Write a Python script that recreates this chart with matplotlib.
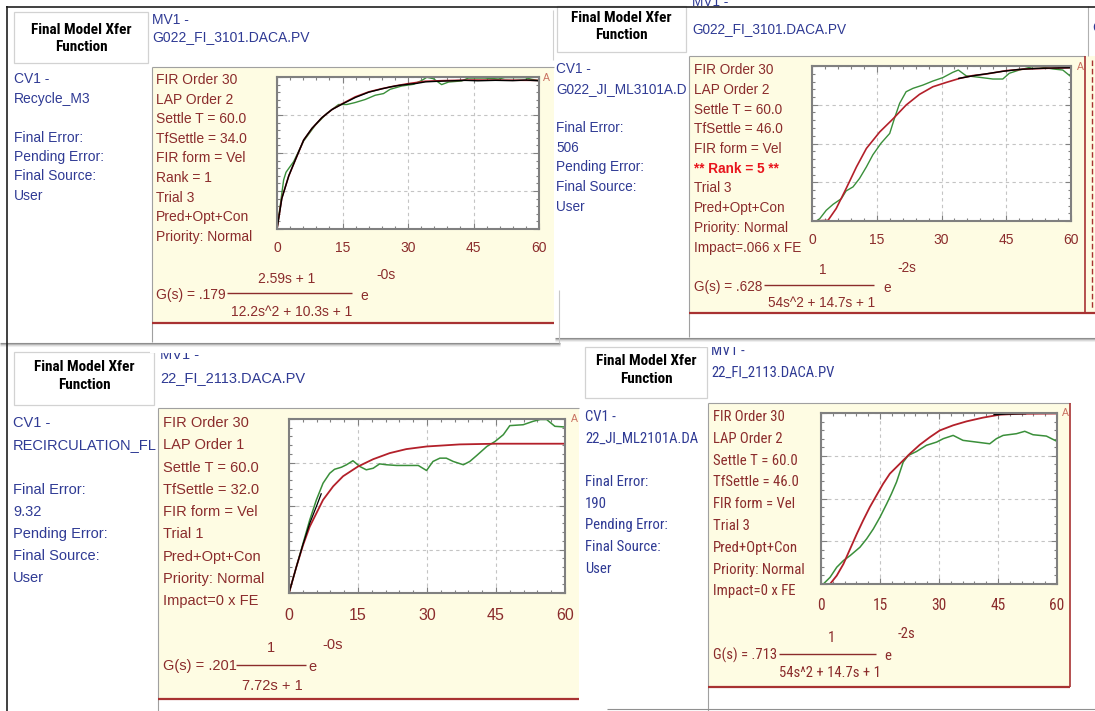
import numpy as np
import matplotlib.pyplot as plt
from matplotlib import font_manager
from matplotlib.font_manager import FontProperties
from matplotlib.patches import Rectangle

W, H = 1095, 711
nan = float('nan')

# ---- step responses (time, fraction of plot height)
t1_red = [0, 1.1, 2.7, 4.2, 6.1, 8, 10.3, 12.6, 15, 17.9, 21, 24, 27, 30, 34, 38, 45, 52, 60]
y1_red = [0, .203, .35, .454, .585, .661, .733, .786, .825, .869, .902, .923, .941, .956, .972, .976, .98, .979, .978]
t1_grn = [0, .76, 1.52, 2.06, 2.82, 3.81, 6.1, 8.77, 11.4, 14.1, 16, 17.9, 20.2, 22.5, 24.4, 25.9, 28.6, 31.3,
          33.2, 34.3, 35.8, 37.7, 39.3, 42.3, 43.8, 47.6, 50.7, 52.2, 56.8, 58.3, 60]
y1_grn = [0, .159, .323, .373, .404, .443, .579, .683, .76, .819, .819, .832, .852, .88, .891, .919, .941, .952,
          .978, .998, .989, .95, .967, .974, .993, .993, .987, .996, .996, .985, .976]
t1_blk = [0, 1.1, 2.7, 4.2, 6.1, 8, 10.3, 12.6, 15, 18, 21, 24, 26, 28, 30, 32, 34, 37, 40, 43, 46, 50, 54, 57, 60]
y1_blk = [0, .2, .35, .455, .585, .662, .733, .786, .823, .866, .9, .922, .935, .945, .952, .958, .968, .972,
          .975, .978, .975, .978, .976, .98, .975]

t2_red = [0, 3.7, 5.6, 7.9, 10.3, 12.6, 15.7, 18.7, 21.8, 24.9, 28, 31.1, 34.2, 37.2, 40.3, 45, 49.6, 54.2, 60]
y2_red = [0, .004, .08, .209, .349, .468, .575, .657, .748, .817, .866, .894, .92, .938, .948, .97, .981, .985, .989]
t2_grn = [0, 1, 1.8, 3.3, 4.9, 6.8, 7.9, 9.5, 11, 12.6, 14.1, 16, 18, 19.1, 20.3, 21.8, 23.4, 25.7, 28, 30.3,
          32.6, 33.9, 35.7, 38.8, 41.9, 44.2, 45.7, 48, 51.1, 52.7, 55.8, 58.1, 60]
y2_grn = [0, 0, .015, .069, .108, .144, .194, .22, .274, .349, .427, .502, .565, .662, .759, .834, .856, .877,
          .903, .925, .959, .974, .937, .927, .916, .916, .953, .974, .996, .996, .981, .974, .931]
t2_blk = [0, 3, nan, 34, 36, 38, 40, 44, 48, 52, 56, 60]
y2_blk = [0, 0, nan, .92, .93, .94, .948, .965, .978, .984, .987, .989]

t3_red = [0, 1.6, 3.05, 4.5, 5.95, 7.4, 9.6, 11.75, 15, 18.3, 21.9, 25.5, 29.9, 37.1, 45.1, 60]
y3_red = [0, .15, .275, .381, .458, .535, .613, .671, .727, .769, .804, .827, .842, .854, .858, .858]
t3_grn = [0, 1.6, 3.05, 4.5, 5.95, 7.4, 8.85, 9.9, 11.4, 12.5, 13.9, 15.4, 16.8, 18.3, 19.7, 21.2, 23.4, 25.5,
          28.1, 29.9, 31.3, 32.8, 34.2, 35.7, 37.9, 39.3, 40.8, 43, 44.8, 46.6, 48, 50.9, 53.1, 54.6, 56, 57.8, 60]
y3_grn = [0, .15, .285, .419, .535, .631, .688, .711, .723, .737, .76, .727, .708, .717, .742, .737, .733, .733,
          .733, .704, .756, .775, .775, .756, .737, .756, .79, .842, .871, .91, .962, .967, .987, .997, .997, .958, .954]
t3_blk = [0, 1.6, 3.05, 4.5, 5.95, 7]
y3_blk = [0, .15, .28, .40, .497, .57]

t4_red = [0, 2.3, 4, 5.7, 7.4, 9.1, 10.7, 12.4, 14.1, 15.8, 17.5, 19.2, 20.9, 22.6, 25.1, 27.7, 30.2, 33.6, 37,
          41.2, 45.4, 49.7, 60]
y4_red = [0, 0, .049, .117, .205, .293, .371, .449, .518, .586, .645, .684, .723, .762, .814, .859, .898, .928,
          .951, .973, .99, .995, .997]
t4_grn = [0, .6, 2.3, 4, 5.7, 7.4, 9.9, 11.6, 13.3, 15, 16.7, 17.9, 19.2, 20.9, 22.2, 24.3, 26.8, 29.4, 31.1,
          33.6, 36.1, 39.5, 42.9, 44.6, 46.3, 49.7, 51.8, 53.9, 57.3, 60]
y4_grn = [0, 0, .039, .098, .137, .166, .215, .264, .322, .391, .469, .527, .596, .713, .752, .775, .811, .83,
          .85, .869, .84, .83, .82, .85, .869, .879, .893, .873, .865, .834]
t4_blk = [0, 3, nan, 44, 47, 52]
y4_blk = [0, 0, nan, .99, .994, .996]

x_ticks = [0, 15, 30, 45, 60]
hdr_lines = ["Final Model Xfer", "Function"]

p1_mv = ["MV1 -", "G022_FI_3101.DACA.PV"]
p1_cv = ["CV1 -", "Recycle_M3", "", "Final Error:", "Pending Error:", "Final Source:", "User"]
p1_info = ["FIR Order 30", "LAP Order 2", "Settle T = 60.0", "TfSettle = 34.0", "FIR form = Vel", "Rank = 1",
           "Trial 3", "Pred+Opt+Con", "Priority: Normal"]
p1_tf = ["G(s) = .179", "2.59s + 1", "12.2s^2 + 10.3s + 1", "-0s"]

p2_mv = ["MV1 -", "G022_FI_3101.DACA.PV"]
p2_cv = ["CV1 -", "G022_JI_ML3101A.D", "", "Final Error:", "506", "Pending Error:", "Final Source:", "User"]
p2_info = ["FIR Order 30", "LAP Order 2", "Settle T = 60.0", "TfSettle = 46.0", "FIR form = Vel",
           "** Rank = 5 **", "Trial 3", "Pred+Opt+Con", "Priority: Normal", "Impact=.066 x FE"]
p2_tf = ["G(s) = .628", "1", "54s^2 + 14.7s + 1", "-2s"]

p3_mv = ["MV1 -", "22_FI_2113.DACA.PV"]
p3_cv = ["CV1 -", "RECIRCULATION_FL", "", "Final Error:", "9.32", "Pending Error:", "Final Source:", "User"]
p3_info = ["FIR Order 30", "LAP Order 1", "Settle T = 60.0", "TfSettle = 32.0", "FIR form = Vel", "Trial 1",
           "Pred+Opt+Con", "Priority: Normal", "Impact=0 x FE"]
p3_tf = ["G(s) = .201", "1", "7.72s + 1", "-0s"]

p4_mv = ["MV1 -", "22_FI_2113.DACA.PV"]
p4_cv = ["CV1 -", "22_JI_ML2101A.DA", "", "Final Error:", "190", "Pending Error:", "Final Source:", "User"]
p4_info = ["FIR Order 30", "LAP Order 2", "Settle T = 60.0", "TfSettle = 46.0", "FIR form = Vel", "Trial 3",
           "Pred+Opt+Con", "Priority: Normal", "Impact=0 x FE"]
p4_tf = ["G(s) = .713", "1", "54s^2 + 14.7s + 1", "-2s"]

BLUE = '#2f3a94'
BROWN = '#8b2c2c'
RANK_RED = '#e8141c'
YELLOW = '#fefce3'
RED_LINE = '#a83232'
GRID = '#c4c4c4'
FRAME = '#808080'
C_RED = '#b3202a'
C_GRN = '#3a8f3a'

SANS = ['Liberation Sans', 'DejaVu Sans']
plt.rcParams['font.family'] = SANS


def _wt(f):
    w = f.weight
    if isinstance(w, str):
        return 700 if 'bold' in w else 400
    return int(w)


def condensed_font(bold):
    # look for a narrow / condensed face among the installed fonts
    prefs = ['Liberation Sans Narrow', 'Roboto Condensed', 'Open Sans Condensed', 'Noto Sans',
             'DejaVu Sans', 'Open Sans', 'Roboto']
    found = []
    for f in font_manager.fontManager.ttflist:
        narrow = ('Narrow' in f.name or 'Condensed' in f.name or 'Narrow' in f.fname
                  or 'Condensed' in f.fname or str(f.stretch) in ('condensed', 'semi-condensed'))
        if not narrow or 'Extra' in f.fname or 'Oblique' in f.fname or 'Italic' in f.fname:
            continue
        if (_wt(f) >= 600) != bold:
            continue
        rank = next((i for i, p in enumerate(prefs) if f.name.startswith(p)), len(prefs))
        found.append((rank, f.fname))
    if not found:
        return None
    return sorted(found)[0][1]


HDR_FILE = condensed_font(True)
NAR_FILE = condensed_font(False)

fig = plt.figure(figsize=(W / 100, H / 100), dpi=100)
bg = fig.add_axes([0, 0, 1, 1])
bg.set_xlim(0, W)
bg.set_ylim(H, 0)
bg.axis('off')


def fprops(fam, fs, weight='normal'):
    if isinstance(fam, str) and fam.endswith(('.ttf', '.otf', '.TTF', '.OTF')):
        return FontProperties(fname=fam, size=fs)
    return FontProperties(family=fam, size=fs, weight=weight)


def hline(x0, x1, y, c, lw=1.0, z=5, **kw):
    bg.plot([x0, x1], [y, y], color=c, lw=lw, zorder=z, solid_capstyle='butt', **kw)


def vline(x, y0, y1, c, lw=1.0, z=5, **kw):
    bg.plot([x, x], [y0, y1], color=c, lw=lw, zorder=z, solid_capstyle='butt', **kw)


def rect(x0, y0, x1, y1, fc, ec='none', lw=0, z=1):
    p = Rectangle((x0, y0), x1 - x0, y1 - y0, facecolor=fc, edgecolor=ec, lw=lw, zorder=z)
    bg.add_patch(p)
    return p


def txt(x, y, s, c, fs, fam=SANS, ha='left', weight='normal', z=4, clip=None):
    t = bg.text(x, y + 1, s, color=c, fontproperties=fprops(fam, fs, weight), ha=ha, va='center', zorder=z)
    if clip is not None:
        t.set_clip_path(clip)
    return t


def draw_plot(box, curves, tick_y, fs, fam):
    x0, y0, x1, y1 = box
    ax = fig.add_axes([x0 / W, 1 - y1 / H, (x1 - x0) / W, (y1 - y0) / H])
    for t, y, c, lw in curves:
        ax.plot(t, y, color=c, lw=lw)
    ax.set_xlim(0, 60)
    ax.set_ylim(0, 1)
    ax.set_xticks(x_ticks)
    ax.set_yticks([0, .25, .5, .75, 1])
    ax.set_xticks(np.arange(0, 61, 3), minor=True)
    ax.set_yticks(np.arange(0, 1.001, .05), minor=True)
    ax.tick_params(which='both', direction='in', top=True, right=True, labelbottom=False, labelleft=False,
                   color=FRAME, width=0.8)
    ax.tick_params(which='major', length=4)
    ax.tick_params(which='minor', length=2.5)
    ax.grid(True, which='major', color=GRID, ls=(0, (3, 3)), lw=0.8)
    for s in ax.spines.values():
        s.set_color(FRAME)
        s.set_linewidth(1.5)
    dy = (tick_y - y1) / (y1 - y0)
    for v in x_ticks:
        ax.text(v, -dy, str(v), transform=ax.get_xaxis_transform(), ha='center', va='center',
                color=BROWN, fontproperties=fprops(fam, fs))
    return ax


def draw_panel(hdr, hdr_y, mv, mv_x, mv_y, cv, cv_x, cv_y, cv_dy, box, info, info_x, info_y, info_dy,
               tf, tf_pos, a_xy, fs, fam, line_to, right_red):
    # header cell
    rect(hdr[0], hdr[1], hdr[2], hdr[3], 'white', ec='#d2d2d2', lw=0.9, z=2)
    for s, y in zip(hdr_lines, hdr_y):
        if HDR_FILE:
            txt((hdr[0] + hdr[2]) / 2, y, s, 'black', 11, fam=HDR_FILE, ha='center')
        else:
            txt((hdr[0] + hdr[2]) / 2, y, s, 'black', 10, ha='center', weight='bold')
    for s, y in zip(mv, mv_y):
        txt(mv_x, y, s, BLUE, fs, fam=fam, z=2)
    bx0, by0, bx1, by1 = box
    col = Rectangle((0, 0), bx0 - 1, H, transform=bg.transData, facecolor='none')
    for i, s in enumerate(cv):
        txt(cv_x, cv_y + i * cv_dy, s, BLUE, fs, fam=fam, z=2, clip=col)
    # yellow info box
    rect(bx0, by0, bx1, by1, YELLOW, z=3)
    hline(bx0, bx1, by0, '#a0a0a0', lw=0.8)
    vline(bx0, by0, line_to, '#a0a0a0', lw=0.8)
    hline(bx0, bx1, by1, RED_LINE, lw=1.6)
    if right_red:
        vline(bx1, by0, by1, RED_LINE, lw=1.2)
    for i, s in enumerate(info):
        if s.startswith('**'):
            txt(info_x, info_y + i * info_dy, s, RANK_RED, fs, fam=SANS, weight='bold')
        else:
            txt(info_x, info_y + i * info_dy, s, BROWN, fs, fam=fam)
    gx, gy, lx0, lx1, ly, nx, ny, dx, dyy, ex, ey, px, py = tf_pos
    txt(gx, gy, tf[0], BROWN, fs, fam=fam)
    hline(lx0, lx1, ly, BROWN, lw=1.0)
    txt(nx, ny, tf[1], BROWN, fs, fam=fam, ha='center')
    txt(dx, dyy, tf[2], BROWN, fs, fam=fam, ha='center')
    txt(ex, ey, 'e', BROWN, fs, fam=fam, ha='center')
    txt(px, py, tf[3], BROWN, fs, fam=fam, ha='center')
    txt(a_xy[0], a_xy[1], 'A', '#c87060', 7.5, ha='center')


p4_fam = NAR_FILE if NAR_FILE else SANS
p4_fs = 10.6 if NAR_FILE else 9.4

# panel 1 (top left)
draw_panel((14, 12, 148, 63), (29, 46), p1_mv, 152, (19, 36), p1_cv, 14, 78, 19.5,
           (152, 67, 554, 323), p1_info, 156, 79, 19.6, p1_tf,
           (156, 294, 227, 352, 293, 287, 278, 292, 311, 364, 295, 386, 274), (546, 77),
           10, SANS, 342, False)
draw_plot((277, 77, 539, 229), [(t1_grn, y1_grn, C_GRN, 1.0), (t1_red, y1_red, C_RED, 1.2),
                                (t1_blk, y1_blk, 'black', 1.0)], 248, 10, SANS)

# panel 2 (top right)
draw_panel((557, 6, 686, 52), (17, 34), p2_mv, 692, (1, 28), p2_cv, 556, 68, 19.7,
           (689, 56, 1085, 313), p2_info, 694, 69, 19.75, p2_tf,
           (694, 286, 764, 874, 285, 823, 269, 822, 302, 887, 287, 907, 267), (1080, 66),
           9.8, SANS, 337, True)
draw_plot((812, 66, 1071, 221), [(t2_grn, y2_grn, C_GRN, 1.0), (t2_red, y2_red, C_RED, 1.2),
                                 (t2_blk, y2_blk, 'black', 1.0)], 240, 10, SANS)

# panel 3 (bottom left)
draw_panel((14, 352, 154, 405), (366, 384), p3_mv, 160, (354, 377), p3_cv, 13, 422, 22.2,
           (158, 408, 579, 699), p3_info, 163, 422, 22.3, p3_tf,
           (163, 665, 236, 306, 665, 271, 647, 272, 685, 312, 666, 333, 644), (574, 418),
           10.5, SANS, 711, False)
draw_plot((289, 419, 565, 593), [(t3_grn, y3_grn, C_GRN, 1.1), (t3_red, y3_red, C_RED, 1.3),
                                 (t3_blk, y3_blk, 'black', 0.9)], 615, 11.5, SANS)

# panel 4 (bottom right)
draw_panel((585, 347, 707, 398), (360, 378), p4_mv, 711, (350, 372), p4_cv, 585, 416, 21.7,
           (708, 403, 1070, 687), p4_info, 713, 416, 21.8, p4_tf,
           (713, 654, 779, 876, 654, 831, 637, 830, 672, 888, 655, 906, 633), (1065, 412),
           p4_fs, p4_fam, 711, True)
draw_plot((821, 413, 1057, 584), [(t4_grn, y4_grn, C_GRN, 1.1), (t4_red, y4_red, C_RED, 1.3),
                                  (t4_blk, y4_blk, 'black', 1.0)], 605, p4_fs + 0.6, p4_fam)

# window edges, overlaps and shadows
rect(150, 343, 560, 352.5, 'white', z=3)
rect(700, 338, 1095, 347, 'white', z=3)
rect(1086, 56, 1095, 313, YELLOW, z=3)
vline(1091.5, 60, 310, RED_LINE, lw=1.0, ls=(0, (4, 2)))
hline(1085, 1095, 313, RED_LINE, lw=1.6)
vline(1088, 6, 56, '#b0b0b0', lw=0.8)
txt(1092, 27, 'C', BLUE, 9.8)
vline(553, 10, 60, '#d0d0d0', lw=0.8)
for i, c in enumerate(['#8c8c8c', '#b4b4b4', '#d8d8d8', '#eeeeee']):
    hline(0, 560, 343 + i, c, lw=0.8, z=6)
    hline(555, 1095, 338 + i, c, lw=0.8, z=6)
vline(559, 290, 343, '#c8c8c8', lw=0.8, z=6)
hline(607, 1095, 709, '#909090', lw=0.8, z=6)
hline(6, 1095, 6.5, '#202020', lw=1.2, z=7)
vline(6.5, 6, 711, '#202020', lw=1.2, z=7)

fig.savefig('out.png', dpi=100)
